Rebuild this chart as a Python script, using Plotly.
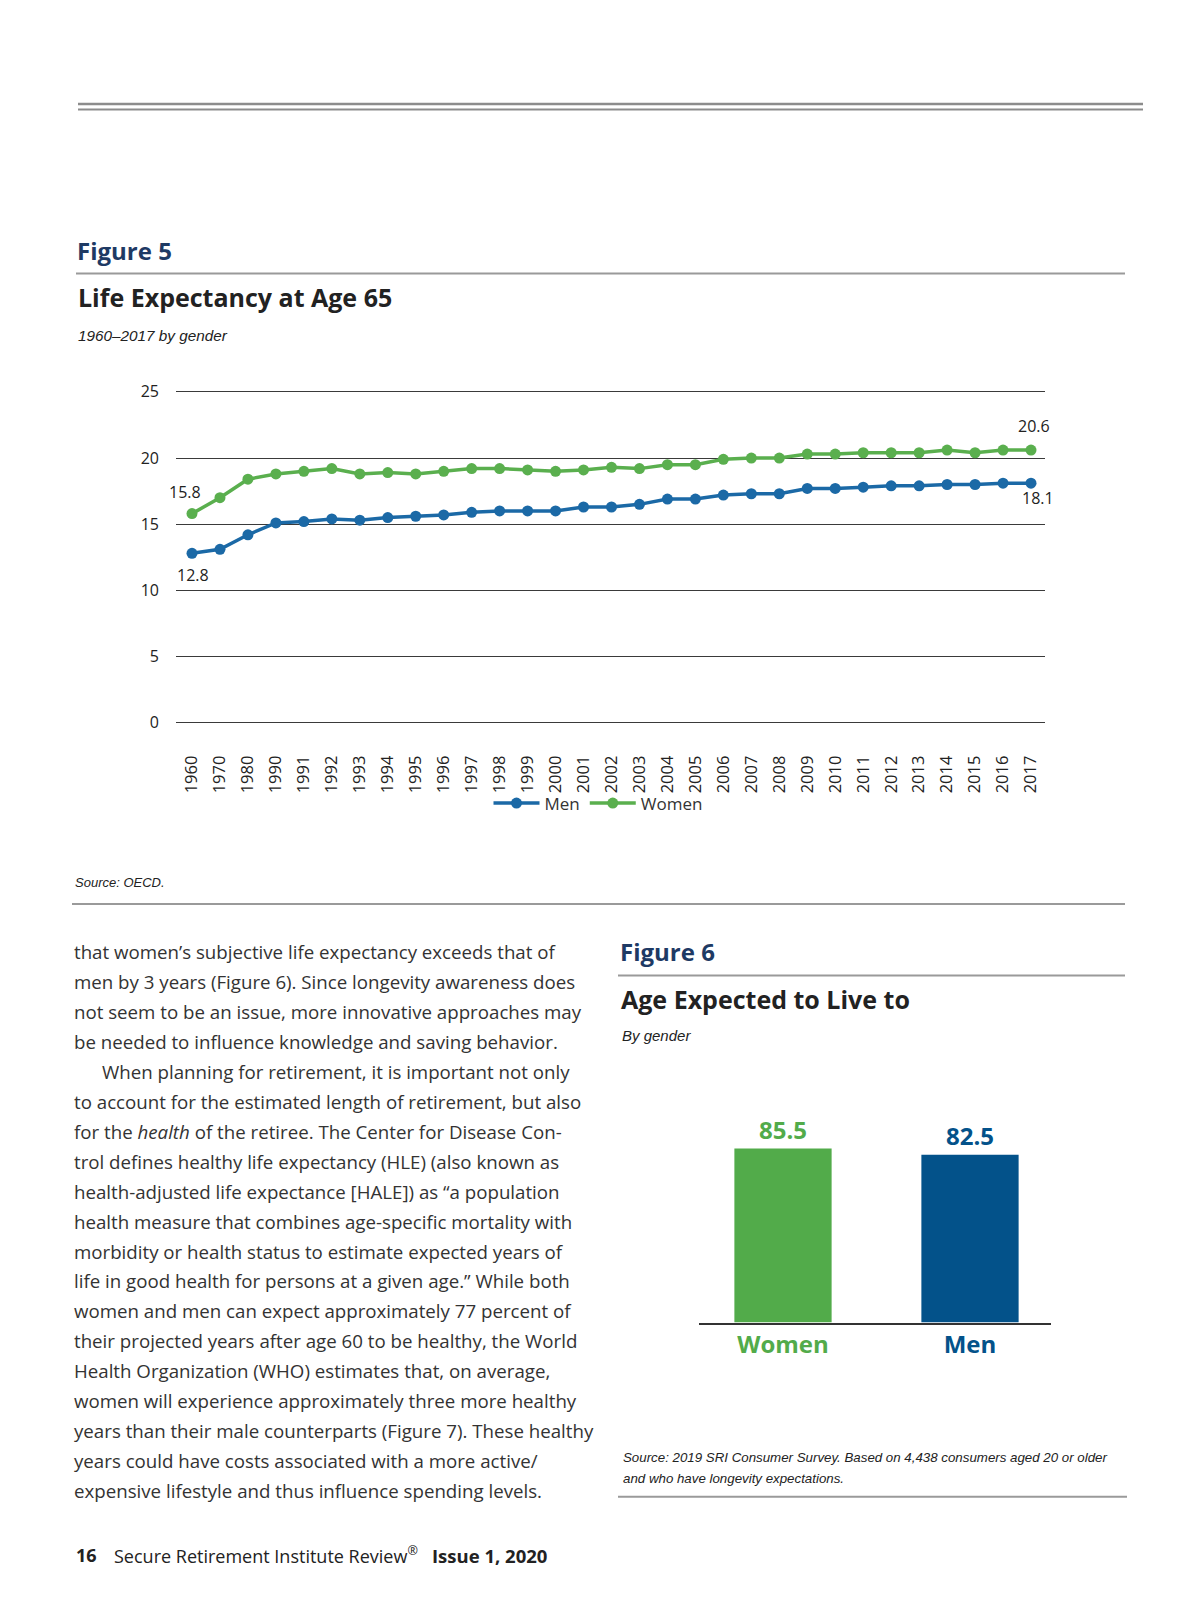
import plotly.graph_objects as go

W, H = 1200, 1606

# ---------------- data ----------------
years = ["1960", "1970", "1980", "1990", "1991", "1992", "1993", "1994", "1995", "1996",
         "1997", "1998", "1999", "2000", "2001", "2002", "2003", "2004", "2005", "2006",
         "2007", "2008", "2009", "2010", "2011", "2012", "2013", "2014", "2015", "2016", "2017"]
men = [12.8, 13.1, 14.2, 15.1, 15.2, 15.4, 15.3, 15.5, 15.6, 15.7,
       15.9, 16.0, 16.0, 16.0, 16.3, 16.3, 16.5, 16.9, 16.9, 17.2,
       17.3, 17.3, 17.7, 17.7, 17.8, 17.9, 17.9, 18.0, 18.0, 18.1, 18.1]
women = [15.8, 17.0, 18.4, 18.8, 19.0, 19.2, 18.8, 18.9, 18.8, 19.0,
         19.2, 19.2, 19.1, 19.0, 19.1, 19.3, 19.2, 19.5, 19.5, 19.9,
         20.0, 20.0, 20.3, 20.3, 20.4, 20.4, 20.4, 20.6, 20.4, 20.6, 20.6]
y_ticks = [0, 5, 10, 15, 20, 25]

bar_categories = ["Women", "Men"]
bar_values = [85.5, 82.5]

body_lines = [
    "that women’s subjective life expectancy exceeds that of",
    "men by 3 years (Figure 6). Since longevity awareness does",
    "not seem to be an issue, more innovative approaches may",
    "be needed to influence knowledge and saving behavior.",
    "When planning for retirement, it is important not only",
    "to account for the estimated length of retirement, but also",
    "for the <i>health</i> of the retiree. The Center for Disease Con-",
    "trol defines healthy life expectancy (HLE) (also known as",
    "health-adjusted life expectance [HALE]) as “a population",
    "health measure that combines age-specific mortality with",
    "morbidity or health status to estimate expected years of",
    "life in good health for persons at a given age.” While both",
    "women and men can expect approximately 77 percent of",
    "their projected years after age 60 to be healthy, the World",
    "Health Organization (WHO) estimates that, on average,",
    "women will experience approximately three more healthy",
    "years than their male counterparts (Figure 7). These healthy",
    "years could have costs associated with a more active/",
    "expensive lifestyle and thus influence spending levels.",
]

# ---------------- styles ----------------
MEN_LINE = "#1b69a6"
WOMEN_LINE = "#5aaf4e"
BAR_WOMEN = "#52ab4a"
BAR_MEN = "#03528a"
NAVY = "#1e3a64"
DARK = "#222222"
BODY = "#333333"
SANS = "Open Sans, Noto Sans, DejaVu Sans, sans-serif"
NARROW = "Liberation Sans Narrow, Liberation Sans, Arial, sans-serif"


def px(x):
    return x / W


def py(y):
    return 1 - y / H


fig = go.Figure()

# ---------------- line chart ----------------
fig.add_trace(go.Scatter(
    x=years, y=men, name="Men", mode="lines+markers",
    line=dict(color=MEN_LINE, width=3.5), marker=dict(color=MEN_LINE, size=11),
    xaxis="x", yaxis="y", cliponaxis=False,
))
fig.add_trace(go.Scatter(
    x=years, y=women, name="Women", mode="lines+markers",
    line=dict(color=WOMEN_LINE, width=3.5), marker=dict(color=WOMEN_LINE, size=11),
    xaxis="x", yaxis="y", cliponaxis=False,
))

# ---------------- bar chart ----------------
fig.add_trace(go.Bar(
    x=bar_categories, y=bar_values, width=0.52,
    marker=dict(color=[BAR_WOMEN, BAR_MEN], line=dict(width=0)),
    text=[f"{v}" for v in bar_values], textposition="outside",
    textfont=dict(family=SANS, size=24, color=[BAR_WOMEN, BAR_MEN], weight="bold"),
    cliponaxis=False, showlegend=False, xaxis="x2", yaxis="y2",
))

# line chart axes geometry (pixels)
x0_px, x1_px = 168, 1037
first_pt, last_pt = 184.0, 1023.0
n = len(years) - 1
span = (x1_px - x0_px) * n / (last_pt - first_pt)
xa = -(first_pt - x0_px) / (x1_px - x0_px) * span
xb = xa + span
g25, g0 = 381.0, 713.7
unit = (g0 - g25) / 25.0
y_bot = g0 + 0.5 * unit
y_top = g25 - 0.5 * unit

# bar axes geometry (pixels)
bx0, bx1 = 691, 1043
c0, c1 = 775.0, 962.0
cw = c1 - c0
ba = -(c0 - bx0) / cw
bb = ba + (bx1 - bx0) / cw
base_y = 1317
bunit = (1317 - 1142) / bar_values[0]
b_top = base_y - 100 * bunit

fig.update_layout(
    width=W, height=H, margin=dict(l=0, r=0, t=0, b=0),
    paper_bgcolor="white", plot_bgcolor="white",
    font=dict(family=SANS, color=DARK),
    showlegend=True,
    legend=dict(orientation="h", x=px(590), xanchor="center", y=py(795), yanchor="middle",
                font=dict(family=SANS, size=17, color=BODY), bgcolor="rgba(0,0,0,0)",
                itemwidth=46, tracegroupgap=0),
    xaxis=dict(domain=[px(x0_px), px(x1_px)], range=[xa, xb], type="category",
               anchor="y", showgrid=False, zeroline=False, showline=False, ticks="",
               tickangle=-90, tickfont=dict(family=SANS, size=16.5, color=DARK),
               ticklabelstandoff=22, fixedrange=True),
    yaxis=dict(domain=[py(y_bot), py(y_top)], range=[-0.5, 25.5], tickvals=y_ticks,
               anchor="x", showgrid=True, gridcolor="#3a3a3a", gridwidth=1.2,
               zeroline=True, zerolinecolor="#3a3a3a", zerolinewidth=1.2,
               showline=False, ticks="", tickfont=dict(family=SANS, size=16, color=DARK),
               ticklabelstandoff=16, fixedrange=True),
    xaxis2=dict(domain=[px(bx0), px(bx1)], range=[ba, bb], type="category", anchor="y2",
                showgrid=False, zeroline=False, showline=True, linecolor="#333333", linewidth=1.5,
                ticks="", tickvals=bar_categories,
                ticktext=[f"<span style='color:{BAR_WOMEN}'><b>Women</b></span>",
                          f"<span style='color:{BAR_MEN}'><b>Men</b></span>"],
                tickfont=dict(family=SANS, size=24), ticklabelstandoff=0, fixedrange=True),
    yaxis2=dict(domain=[py(base_y), py(b_top)], range=[0, 100], anchor="x2",
                visible=False, fixedrange=True),
)

# data labels on line chart (category index positions)
i0, i1 = 0, len(years) - 1
lab_font = dict(family=SANS, size=16, color=DARK)
fig.add_annotation(x=i0, y=women[i0], xref="x", yref="y", text=f"{women[i0]}",
                   showarrow=False, xshift=-7, yshift=22, font=lab_font)
fig.add_annotation(x=i0, y=men[i0], xref="x", yref="y", text=f"{men[i0]}",
                   showarrow=False, xshift=1, yshift=-22, font=lab_font)
fig.add_annotation(x=i1, y=women[i1], xref="x", yref="y", text=f"{women[i1]}",
                   showarrow=False, xshift=3, yshift=24, font=lab_font)
fig.add_annotation(x=i1, y=men[i1], xref="x", yref="y", text=f"{men[i1]}",
                   showarrow=False, xshift=7, yshift=-15, font=lab_font)


def text(x, y, s, size, color, family=SANS, anchor="left"):
    fig.add_annotation(x=px(x), y=py(y), xref="paper", yref="paper", text=s, showarrow=False,
                       xanchor=anchor, yanchor="middle", align="left",
                       font=dict(family=family, size=size, color=color))


def rule(x0, x1, y, color="#9a9a9a", width=2):
    fig.add_shape(type="line", xref="paper", yref="paper", x0=px(x0), x1=px(x1),
                  y0=py(y), y1=py(y), line=dict(color=color, width=width))


# page rules
rule(70, 1135, 91.5, "#8c8c8c", 2.5)
rule(70, 1135, 97, "#8c8c8c", 2)
rule(68, 1117, 262)
rule(64, 1117, 896)
rule(610, 1117, 968)
rule(610, 1119, 1492)

# Figure 5 headings
text(67, 239, "<b>Figure 5</b>", 24, NAVY)
text(68, 286, "<b>Life Expectancy at Age 65</b>", 25, DARK)
text(68, 324, "<i>1960–2017 by gender</i>", 15.3, DARK, NARROW)
text(65, 874, "<i>Source: OECD.</i>", 13, DARK, NARROW)

# Figure 6 headings
text(610, 944, "<b>Figure 6</b>", 24, NAVY)
text(611, 992, "<b>Age Expected to Live to</b>", 25, DARK)
text(612, 1028, "<i>By gender</i>", 15, DARK, NARROW)
text(613, 1453, "<i>Source: 2019 SRI Consumer Survey. Based on 4,438 consumers aged 20 or older</i>", 13.3, DARK, NARROW)
text(613, 1474, "<i>and who have longevity expectations.</i>", 13.3, DARK, NARROW)

# body text
for i, line in enumerate(body_lines):
    xx = 64 + (28 if i == 4 else 0)
    text(xx, 944 + 30.1 * i, line, 18.7, BODY)

# footer
text(66, 1551, "<b>16</b>", 18, DARK)
text(104, 1551, "Secure Retirement Institute Review<sup>®</sup>", 18, DARK)
text(422, 1551, "<b>Issue 1, 2020</b>", 18.5, DARK)

fig.write_html("out.html")
